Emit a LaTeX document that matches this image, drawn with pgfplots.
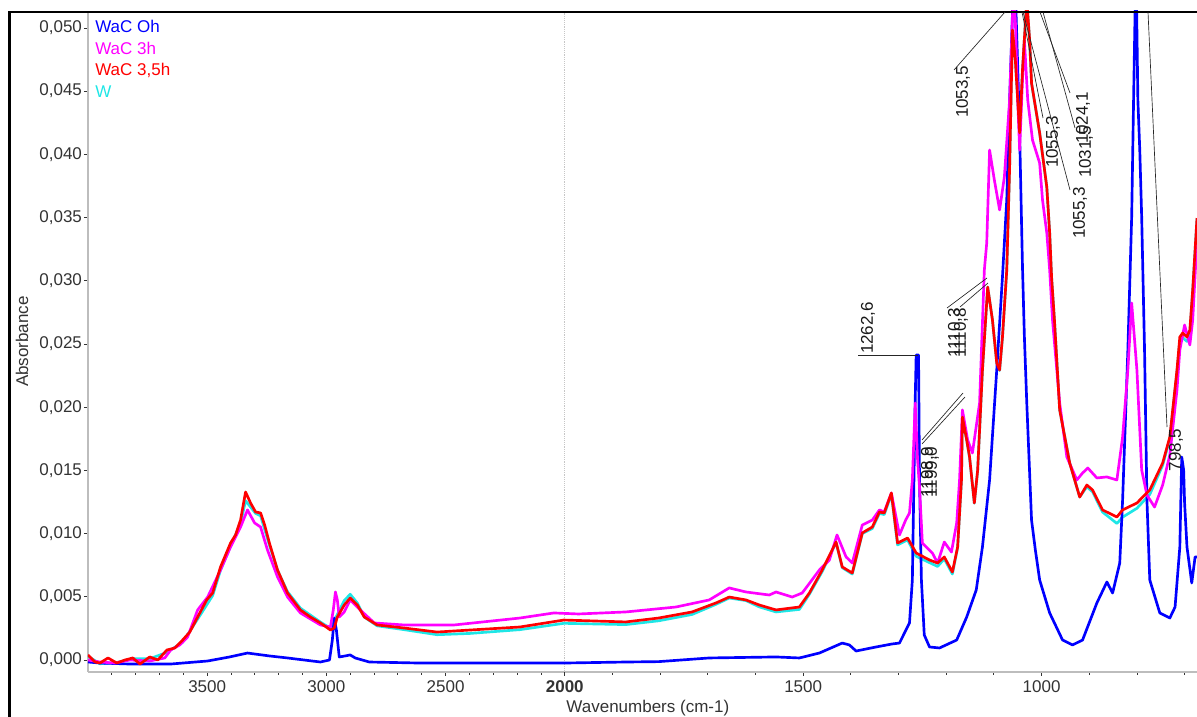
\documentclass[border=0pt]{standalone}
\usepackage{pgfplots}
\pgfplotsset{compat=1.18}
\usepackage{fontspec}
\setmainfont{Liberation Sans}
\definecolor{tickgray}{HTML}{333333}
\definecolor{axgray}{HTML}{BDBDBD}
\definecolor{cyn}{HTML}{1EE6E6}
\definecolor{mag}{HTML}{FF00FF}
\definecolor{blu}{HTML}{0000FF}
\definecolor{rd}{HTML}{FF0000}
\begin{document}
\begin{tikzpicture}[font=\fontsize{12.75}{15}\selectfont]
\useasboundingbox (-66pt,-33.75pt) rectangle (831.75pt,504pt);
\begin{axis}[
  scale only axis, width=831.75pt, height=495.75pt,
  at={(0,0)}, anchor=south west,
  xmin=-652, xmax=4000, x dir=reverse,
  ymin=-0.00095, ymax=0.05134,
  x filter/.expression={x<2000 ? 2*x-2000 : x},
  axis x line*=bottom, axis y line*=left,
  axis line style={axgray, line width=1.8pt},
  xtick={3500,3000,2500,2000,1000,0},
  xticklabels={3500,3000,2500,\textbf{2000},1500,1000},
  minor xtick={3900,3800,3700,3600,3400,3300,3200,3100,2900,2800,2700,2600,2400,2300,2200,2100,1800,1600,1400,1200,800,600,400,200,-200,-400,-600},
  ytick={0,0.005,0.01,0.015,0.02,0.025,0.03,0.035,0.04,0.045,0.05},
  scaled y ticks=false,
  yticklabel style={/pgf/number format/fixed, /pgf/number format/fixed zerofill, /pgf/number format/precision=3, /pgf/number format/use comma, /pgf/number format/assume math mode=true, xshift=2pt},
  ticklabel style={text=tickgray, font=\fontsize{12.75}{15}\selectfont},
  tick align=outside, major tick length=3pt, minor tick length=2pt,
  tick style={tickgray, line width=0.6pt},
  extra x ticks={2000}, extra x tick labels={},
  extra x tick style={grid=major, major grid style={gray!45, densely dotted, line width=0.6pt}},
  xlabel={Wavenumbers (cm-1)}, ylabel={Absorbance},
  xlabel style={at={(axis description cs:0.5,0)}, anchor=center, yshift=-27pt, xshift=4pt, text=tickgray},
  ylabel style={at={(axis description cs:0,0.5)}, anchor=center, yshift=49.5pt, text=tickgray},
  every axis plot/.append style={line width=2pt, line join=round},
]
% W (cyan)
\addplot[cyn] coordinates {
(4000,0.0003)(3950,-0.0003)(3879,-0.0002)(3812,0.0001)(3741,0.0001)(3669,0.0006)(3603,0.0014)(3531,0.0035)(3477,0.0051)(3444,0.0071)(3402,0.0090)(3360,0.0108)(3339,0.0126)(3318,0.0121)(3297,0.0116)(3276,0.0114)(3239,0.0091)(3205,0.0071)(3163,0.0054)(3109,0.0041)(3025,0.0030)(2983,0.0025)(2954,0.0036)(2925,0.0047)(2900,0.0052)(2870,0.0045)(2841,0.0034)(2787,0.0027)(2674,0.0024)(2536,0.0020)(2398,0.0021)(2188,0.0024)(2004,0.0029)(1872,0.0028)(1803,0.0031)(1733,0.0036)(1683,0.0044)(1655,0.0049)(1620,0.0047)(1592,0.0042)(1557,0.0038)(1508,0.0040)(1487,0.0052)(1460,0.0070)(1431,0.0093)(1418,0.0073)(1397,0.0068)(1376,0.0100)(1355,0.0104)(1340,0.0116)(1330,0.0115)(1315,0.0131)(1302,0.0091)(1281,0.0095)(1263,0.0082)(1235,0.0077)(1218,0.0074)(1204,0.0080)(1187,0.0068)(1176,0.0089)(1168,0.0142)(1166,0.0192)(1157,0.0174)(1151,0.0160)(1141,0.0124)(1134,0.0150)(1124,0.0229)(1113,0.0295)(1103,0.0269)(1094,0.0235)(1088,0.0229)(1082,0.0255)(1073,0.0308)(1067,0.0390)(1061,0.0498)(1055,0.0475)(1050,0.0443)(1046,0.0417)(1040,0.0467)(1031,0.0522)(1025,0.0490)(1021,0.0456)(1004,0.0417)(989,0.0374)(983,0.0338)(979,0.0303)(973,0.0269)(962,0.0198)(941,0.0156)(920,0.0129)(905,0.0137)(893,0.0133)(872,0.0117)(842,0.0108)(830,0.0113)(800,0.0120)(773,0.0131)(746,0.0154)(731,0.0175)(716,0.0228)(710,0.0253)(704,0.0255)(695,0.0252)(689,0.0258)(683,0.0292)(674,0.0349)
};
% WaC Oh (blue)
\addplot[blu] coordinates {
(4000,-0.00016)(3950,-0.00024)(3824,-0.00032)(3653,-0.00032)(3498,-0.00008)(3406,0.00024)(3331,0.00055)(3239,0.00032)(3163,0.00016)(3025,-0.00016)(2987,0)(2975,0.00158)(2967,0.00332)(2958,0.00237)(2946,0.00024)(2921,0.00032)(2900,0.0004)(2879,0.00016)(2820,-0.00016)(2611,-0.00024)(2276,-0.00024)(2000,-0.00024)(1872,-0.00016)(1803,-0.00013)(1697,0.00016)(1557,0.00024)(1508,0.00016)(1466,0.00055)(1418,0.00134)(1403,0.00119)(1389,0.00071)(1347,0.00103)(1313,0.00127)(1298,0.00134)(1277,0.00293)(1271,0.00633)(1265,0.02057)(1263,0.02413)(1258,0.02413)(1256,0.01424)(1252,0.00633)(1246,0.00198)(1235,0.00103)(1214,0.00095)(1178,0.00158)(1157,0.0034)(1137,0.00554)(1124,0.00894)(1109,0.01424)(1094,0.02294)(1082,0.0303)(1073,0.03639)(1067,0.0443)(1061,0.05118)(1057,0.0554)(1050,0.04691)(1046,0.04169)(1040,0.03109)(1036,0.02555)(1031,0.02033)(1021,0.01107)(1013,0.0087)(1004,0.00633)(983,0.00372)(956,0.00158)(935,0.00119)(914,0.00158)(884,0.00451)(863,0.00617)(851,0.0053)(836,0.00767)(830,0.01266)(819,0.02452)(811,0.03504)(807,0.0443)(802,0.0554)(798,0.0443)(794,0.04034)(790,0.03504)(784,0.02452)(779,0.01266)(773,0.00633)(752,0.00372)(731,0.00332)(720,0.00419)(710,0.00894)(706,0.01606)(702,0.01503)(700,0.01242)(695,0.00894)(685,0.00609)(678,0.00815)(674,0.00815)
};
% WaC 3h (magenta)
\addplot[mag] coordinates {
(4000,0)(3950,-0.00016)(3887,-0.00024)(3824,0)(3741,-0.00008)(3678,0.00016)(3653,0.00079)(3615,0.00119)(3582,0.00182)(3540,0.00396)(3498,0.00498)(3444,0.00712)(3402,0.00894)(3360,0.01052)(3331,0.01187)(3301,0.01084)(3276,0.01052)(3247,0.0087)(3205,0.00657)(3163,0.00498)(3109,0.00372)(3025,0.00277)(2983,0.00261)(2971,0.00396)(2962,0.00538)(2954,0.00475)(2946,0.0034)(2925,0.0038)(2900,0.00475)(2858,0.00396)(2799,0.00293)(2674,0.00277)(2464,0.00277)(2188,0.00332)(2046,0.00372)(1971,0.00364)(1872,0.0038)(1767,0.00419)(1697,0.00475)(1655,0.0057)(1620,0.00538)(1571,0.00514)(1557,0.00538)(1523,0.00498)(1502,0.0053)(1466,0.00712)(1445,0.00791)(1429,0.00989)(1410,0.00815)(1397,0.00767)(1376,0.01068)(1355,0.01107)(1340,0.01187)(1330,0.01171)(1315,0.01321)(1298,0.00989)(1285,0.01107)(1277,0.01163)(1271,0.01424)(1265,0.02033)(1260,0.01582)(1256,0.01368)(1250,0.00925)(1229,0.00846)(1218,0.00767)(1204,0.00933)(1189,0.00854)(1178,0.01084)(1172,0.01424)(1166,0.01978)(1155,0.0174)(1145,0.01637)(1130,0.02033)(1120,0.03085)(1115,0.03298)(1109,0.04034)(1099,0.03797)(1088,0.0356)(1078,0.03821)(1067,0.0443)(1059,0.053)(1055,0.05062)(1050,0.0443)(1046,0.04034)(1040,0.04588)(1036,0.04904)(1029,0.0443)(1019,0.04113)(1004,0.03931)(998,0.03639)(989,0.03378)(983,0.03085)(977,0.02689)(962,0.02033)(947,0.01606)(926,0.01424)(914,0.01479)(903,0.01519)(884,0.0144)(863,0.01448)(842,0.01424)(830,0.01764)(819,0.02294)(811,0.02824)(800,0.02294)(790,0.01503)(779,0.01305)(763,0.0121)(746,0.01384)(731,0.01622)(716,0.02136)(710,0.02452)(700,0.0265)(689,0.02492)(683,0.02689)(674,0.03322)
};
% WaC 3,5h (red)
\addplot[rd] coordinates {
(4000,0.0004)(3992,0.00024)(3971,-0.00016)(3950,-0.00024)(3916,0.00016)(3879,-0.00024)(3845,0)(3812,0.00016)(3782,-0.00032)(3741,0.00024)(3707,0)(3669,0.00079)(3636,0.00095)(3603,0.00158)(3573,0.00221)(3531,0.00372)(3502,0.00475)(3477,0.0053)(3444,0.00736)(3402,0.00925)(3381,0.00989)(3360,0.01107)(3339,0.01329)(3318,0.01242)(3297,0.01171)(3276,0.01163)(3259,0.01068)(3239,0.00925)(3205,0.00712)(3163,0.0053)(3109,0.00396)(3067,0.0034)(3025,0.00293)(2983,0.00237)(2967,0.00253)(2954,0.0034)(2925,0.00435)(2900,0.0049)(2870,0.00435)(2841,0.0034)(2787,0.00277)(2674,0.00253)(2536,0.00221)(2398,0.00237)(2188,0.00261)(2004,0.00316)(1872,0.00301)(1803,0.00332)(1733,0.0038)(1683,0.00451)(1655,0.00498)(1620,0.00475)(1592,0.00435)(1557,0.00396)(1508,0.00419)(1487,0.0053)(1460,0.00712)(1431,0.00933)(1418,0.00736)(1397,0.00688)(1376,0.01005)(1355,0.01052)(1340,0.01171)(1330,0.01163)(1315,0.01321)(1302,0.00925)(1281,0.00965)(1263,0.00846)(1235,0.00791)(1218,0.00767)(1204,0.00815)(1187,0.00696)(1176,0.00894)(1168,0.01424)(1166,0.01922)(1157,0.0174)(1151,0.01606)(1141,0.01242)(1134,0.01503)(1124,0.02294)(1113,0.0295)(1103,0.02689)(1094,0.02349)(1088,0.02294)(1082,0.02555)(1073,0.03085)(1067,0.039)(1061,0.04983)(1055,0.04746)(1050,0.0443)(1046,0.04169)(1040,0.04667)(1031,0.0522)(1025,0.04904)(1021,0.04564)(1004,0.04169)(989,0.03741)(983,0.03378)(979,0.0303)(973,0.02689)(962,0.01978)(941,0.01558)(920,0.01289)(905,0.01384)(893,0.01345)(872,0.01187)(842,0.01131)(830,0.01187)(800,0.01242)(773,0.01345)(746,0.01558)(731,0.01764)(716,0.02294)(710,0.02555)(704,0.02587)(695,0.02555)(689,0.0261)(683,0.02927)(674,0.03496)
};
\end{axis}
\begin{scope}[x=0.75pt,y=-0.75pt,shift={(-66pt,504pt)}]
  % outer frame
  \draw[black, line width=1.8pt] (9.5,717) -- (9.5,12) -- (1197,12);
  % legend texts
  \node[anchor=west, text=blu, inner sep=0pt] at (95,26) {WaC Oh};
  \node[anchor=west, text=mag, inner sep=0pt] at (95,48) {WaC 3h};
  \node[anchor=west, text=rd, inner sep=0pt] at (95,70) {WaC 3,5h};
  \node[anchor=west, text=cyn, inner sep=0pt] at (95,92) {W};
  % peak annotations
  \begin{scope}[line width=0.5pt, black!85]
    \draw (954,70) -- (1005,12);
    \draw (1043,118) -- (1022,12);
    \draw (1070,190) -- (1023,12);
    \draw (1070,93) -- (1040,12);
    \draw (1075,128) -- (1043,12);
    \draw (858,355) -- (918,355);
    \draw (947,308) -- (987,278);
    \draw (960,307) -- (988,283);
    \draw (922,440) -- (963,393);
    \draw (922,444) -- (965,397);
    \draw (1167,427) -- (1148,12);
  \end{scope}
  \begin{scope}[every node/.style={rotate=90, inner sep=0pt, text=black!90}]
    \node at (963,92) {1053,5};
    \node at (1053,142) {1055,3};
    \node at (1080,213) {1055,3};
    \node at (1086,152) {1031,5};
    \node at (1083,118) {1024,1};
    \node at (868,328) {1262,6};
    \node at (955,333) {1110,3};
    \node at (961,333) {1110,8};
    \node at (928,472) {1198,9};
    \node at (932,472) {1199,0};
    \node at (1176,450) {798,5};
  \end{scope}
\end{scope}
\end{tikzpicture}
\end{document}
